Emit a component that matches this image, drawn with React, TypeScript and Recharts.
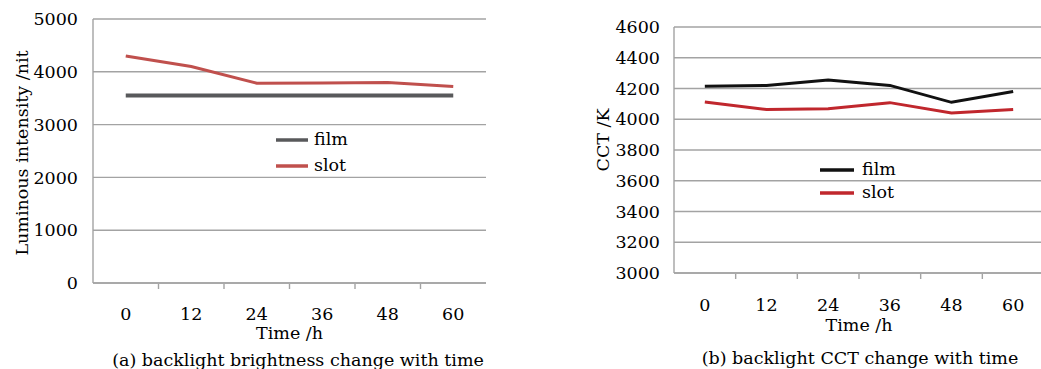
import { CartesianGrid, Label, Legend, Line, LineChart, XAxis, YAxis } from "recharts";

const HOURS = [0, 12, 24, 36, 48, 60];
// band edges between the hour categories, where the small x ticks sit
const EDGES = [6, 18, 30, 42, 54];

const FILM_LUM = [3550, 3550, 3550, 3550, 3550, 3550];
const SLOT_LUM = [4300, 4100, 3785, 3790, 3795, 3720];
const LUM_TICKS = [0, 1000, 2000, 3000, 4000, 5000];

const FILM_CCT = [4215, 4220, 4255, 4220, 4110, 4180];
const SLOT_CCT = [4112, 4063, 4068, 4108, 4040, 4063];
const CCT_TICKS = [3000, 3200, 3400, 3600, 3800, 4000, 4200, 4400, 4600];

const FONT = "'DejaVu Serif', serif";
const FS = 17.5;
const INK = "#000000";
const GRID = "#a3a3a3";

const lumRows = HOURS.map((h, i) => ({ h, film: FILM_LUM[i], slot: SLOT_LUM[i] }));
const cctRows = HOURS.map((h, i) => ({ h, film: FILM_CCT[i], slot: SLOT_CCT[i] }));

// one axis carries both the hour labels and the short edge ticks
const hourTick = (gap: number) => (props: any) => {
  const { x, y, payload } = props;
  if (EDGES.includes(payload.value)) {
    return <line x1={x} x2={x} y1={y} y2={y - 5} stroke={GRID} strokeWidth={1.4} />;
  }
  return (
    <text x={x} y={y + gap} dy="0.71em" textAnchor="middle" fill={INK} fontSize={FS} fontFamily={FONT}>
      {payload.value}
    </text>
  );
};

const yTitle = (text: string, dx: number, dy: number) => (props: any) => {
  const vb = props.viewBox;
  const cx = vb.x + dx;
  const cy = vb.y + vb.height / 2 + dy;
  return (
    <text
      x={cx}
      y={cy}
      transform={`rotate(-90 ${cx} ${cy})`}
      textAnchor="middle"
      dominantBaseline="central"
      fill={INK}
      fontSize={FS}
      fontFamily={FONT}
    >
      {text}
    </text>
  );
};

const legendBox = (lineW: number, gap: number, rowH: number) => (props: any) => (
  <div style={{ fontFamily: FONT, fontSize: FS, color: INK }}>
    {(props.payload || []).map((p: any) => (
      <div key={p.value} style={{ display: "flex", alignItems: "center", height: rowH }}>
        <svg width={lineW} height={6}>
          <line x1={0} x2={lineW} y1={3} y2={3} stroke={p.color} strokeWidth={3.5} />
        </svg>
        <span style={{ marginLeft: gap, lineHeight: 1 }}>{p.value}</span>
      </div>
    ))}
  </div>
);

const tickStyle = { fill: INK, fontSize: FS, fontFamily: FONT };

function Caption({ text, cx, top }: { text: string; cx: number; top: number }) {
  return (
    <div
      style={{
        position: "absolute",
        left: cx - 250,
        width: 500,
        top,
        textAlign: "center",
        fontFamily: FONT,
        fontSize: FS,
        lineHeight: "20px",
        color: INK,
        whiteSpace: "nowrap",
      }}
    >
      {text}
    </div>
  );
}

export default function App() {
  return (
    <div style={{ position: "absolute", left: 0, top: 0, width: 1041, height: 369, overflow: "hidden", background: "#fff" }}>
      <div style={{ position: "absolute", left: 0, top: 0 }}>
        <LineChart width={500} height={345} data={lumRows} margin={{ top: 19, right: 14, bottom: 0, left: 0 }}>
          <CartesianGrid vertical={false} stroke={GRID} strokeWidth={1.4} />
          <XAxis
            dataKey="h"
            type="number"
            domain={[-6, 66]}
            ticks={[...HOURS, ...EDGES].sort((a, b) => a - b)}
            interval={0}
            tick={hourTick(18.5)}
            tickLine={false}
            tickMargin={0}
            stroke={GRID}
            strokeWidth={1.4}
            height={62}
          >
            <Label value="Time /h" position="insideBottom" offset={6} fill={INK} fontSize={FS} fontFamily={FONT} />
          </XAxis>
          <YAxis
            domain={[0, 5000]}
            ticks={LUM_TICKS}
            width={93}
            tickLine={false}
            tickMargin={9}
            tick={tickStyle}
            stroke={GRID}
            strokeWidth={1.4}
            label={{ content: yTitle("Luminous intensity /nit", 22, 2) }}
          />
          <Legend
            layout="vertical"
            align="center"
            verticalAlign="middle"
            wrapperStyle={{ left: 276, top: 127, width: "auto" }}
            content={legendBox(32, 6, 26)}
          />
          <Line dataKey="film" name="film" stroke="#58595b" strokeWidth={4} dot={false} isAnimationActive={false} />
          <Line dataKey="slot" name="slot" stroke="#c0504d" strokeWidth={3} dot={false} isAnimationActive={false} />
        </LineChart>
      </div>

      <div style={{ position: "absolute", left: 560, top: 0 }}>
        <LineChart width={484} height={337} data={cctRows} margin={{ top: 27, right: 0, bottom: 0, left: 0 }}>
          <CartesianGrid vertical={false} stroke={GRID} strokeWidth={1.4} />
          <XAxis
            dataKey="h"
            type="number"
            domain={[-6, 66]}
            ticks={[...HOURS, ...EDGES].sort((a, b) => a - b)}
            interval={0}
            tick={hourTick(20)}
            tickLine={false}
            tickMargin={0}
            stroke={GRID}
            strokeWidth={1.4}
            height={64}
          >
            <Label value="Time /h" position="insideBottom" offset={6} fill={INK} fontSize={FS} fontFamily={FONT} />
          </XAxis>
          <YAxis
            domain={[3000, 4600]}
            ticks={CCT_TICKS}
            width={114}
            tickLine={false}
            tickMargin={8}
            tick={tickStyle}
            stroke={GRID}
            strokeWidth={1.4}
            label={{ content: yTitle("CCT /K", 43, -10) }}
          />
          <Legend
            layout="vertical"
            align="center"
            verticalAlign="middle"
            wrapperStyle={{ left: 260, top: 158, width: "auto" }}
            content={legendBox(34, 8, 23)}
          />
          <Line dataKey="film" name="film" stroke="#111111" strokeWidth={3} dot={false} isAnimationActive={false} />
          <Line dataKey="slot" name="slot" stroke="#c0272d" strokeWidth={3} dot={false} isAnimationActive={false} />
        </LineChart>
      </div>

      <Caption text="(a) backlight brightness change with time" cx={298} top={350} />
      <Caption text="(b) backlight CCT change with time" cx={860} top={348} />
    </div>
  );
}
